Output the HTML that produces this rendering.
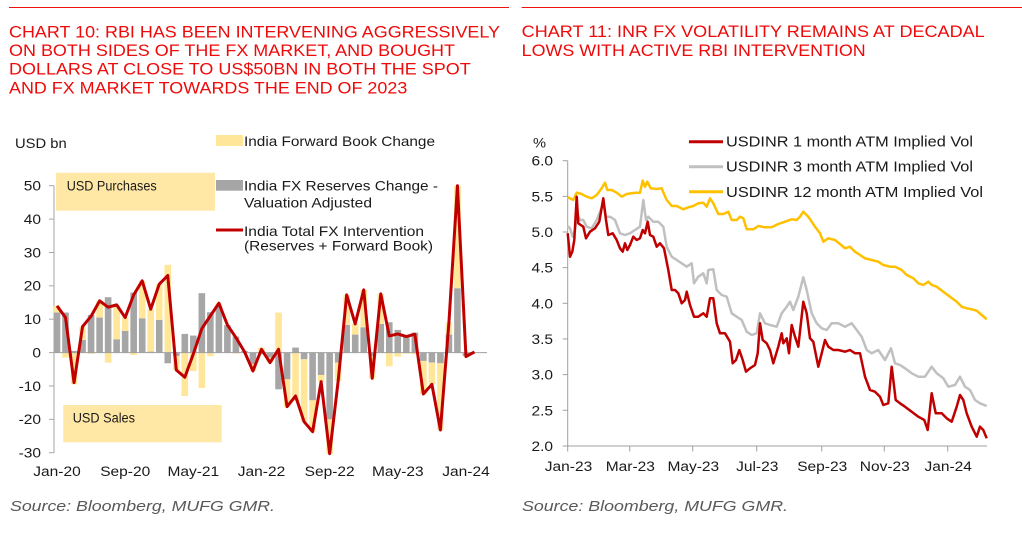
<!DOCTYPE html>
<html>
<head>
<meta charset="utf-8">
<style>
html,body{margin:0;padding:0;background:#fff;}
svg{display:block;}
text{font-family:"Liberation Sans",Arial,sans-serif;}
</style>
</head>
<body>
<svg width="1022" height="549" viewBox="0 0 1022 549" xmlns="http://www.w3.org/2000/svg">
<rect x="0" y="0" width="1022" height="549" fill="#fff"/>

<!-- top rules -->
<line x1="9" y1="7.5" x2="509" y2="7.5" stroke="#f01010" stroke-width="1"/>
<line x1="521.7" y1="7.5" x2="1022" y2="7.5" stroke="#f01010" stroke-width="1"/>

<!-- titles -->
<g fill="#ee0a0a" font-size="17">
<text x="9" y="37.3" textLength="491" lengthAdjust="spacingAndGlyphs">CHART 10: RBI HAS BEEN INTERVENING AGGRESSIVELY</text>
<text x="9" y="56" textLength="446" lengthAdjust="spacingAndGlyphs">ON BOTH SIDES OF THE FX MARKET, AND BOUGHT</text>
<text x="9" y="74.7" textLength="461.7" lengthAdjust="spacingAndGlyphs">DOLLARS AT CLOSE TO US$50BN IN BOTH THE SPOT</text>
<text x="9" y="93.4" textLength="398.3" lengthAdjust="spacingAndGlyphs">AND FX MARKET TOWARDS THE END OF 2023</text>
<text x="521.7" y="37" textLength="463" lengthAdjust="spacingAndGlyphs">CHART 11: INR FX VOLATILITY REMAINS AT DECADAL</text>
<text x="521.7" y="56" textLength="344" lengthAdjust="spacingAndGlyphs">LOWS WITH ACTIVE RBI INTERVENTION</text>
</g>

<!-- ============ LEFT CHART ============ -->
<!-- annotation boxes -->
<rect x="56" y="172.7" width="159" height="38" fill="#FFE8A6"/>
<rect x="63.3" y="405" width="158.4" height="37.3" fill="#FFE8A6"/>
<g font-size="13.5" fill="#1a1a1a">
<text x="66.7" y="190.7" textLength="90" lengthAdjust="spacingAndGlyphs">USD Purchases</text>
<text x="72.7" y="422.7" textLength="62.3" lengthAdjust="spacingAndGlyphs">USD Sales</text>
<text x="15" y="148" textLength="51.7" lengthAdjust="spacingAndGlyphs">USD bn</text>
</g>

<!-- legend -->
<rect x="216" y="135" width="27" height="11" fill="#FFE699"/>
<rect x="216" y="180" width="27" height="10.7" fill="#A6A6A6"/>
<line x1="216" y1="230" x2="243" y2="230" stroke="#C00000" stroke-width="3"/>
<g font-size="14" fill="#1a1a1a">
<text x="244" y="146" textLength="191" lengthAdjust="spacingAndGlyphs">India Forward Book Change</text>
<text x="244" y="190.7" textLength="194" lengthAdjust="spacingAndGlyphs">India FX Reserves Change -</text>
<text x="244" y="207.3" textLength="128" lengthAdjust="spacingAndGlyphs">Valuation Adjusted</text>
<text x="244" y="236" textLength="180" lengthAdjust="spacingAndGlyphs">India Total FX Intervention</text>
<text x="244" y="250.5" textLength="189" lengthAdjust="spacingAndGlyphs">(Reserves + Forward Book)</text>
</g>

<!-- y axis -->
<line x1="54" y1="185.7" x2="54" y2="452.7" stroke="#A6A6A6" stroke-width="1"/>
<g stroke="#A6A6A6" stroke-width="1">
<line x1="49" y1="185.7" x2="54" y2="185.7"/>
<line x1="49" y1="219.1" x2="54" y2="219.1"/>
<line x1="49" y1="252.5" x2="54" y2="252.5"/>
<line x1="49" y1="285.85" x2="54" y2="285.85"/>
<line x1="49" y1="319.2" x2="54" y2="319.2"/>
<line x1="49" y1="352.6" x2="54" y2="352.6"/>
<line x1="49" y1="386" x2="54" y2="386"/>
<line x1="49" y1="419.35" x2="54" y2="419.35"/>
<line x1="49" y1="452.7" x2="54" y2="452.7"/>
</g>
<g font-size="13.5" fill="#1a1a1a" text-anchor="end">
<text transform="translate(41,190.5) scale(1.15,1)">50</text>
<text transform="translate(41,223.9) scale(1.15,1)">40</text>
<text transform="translate(41,257.3) scale(1.15,1)">30</text>
<text transform="translate(41,290.6) scale(1.15,1)">20</text>
<text transform="translate(41,324) scale(1.15,1)">10</text>
<text transform="translate(41,357.4) scale(1.15,1)">0</text>
<text transform="translate(41,390.8) scale(1.15,1)">-10</text>
<text transform="translate(41,424.1) scale(1.15,1)">-20</text>
<text transform="translate(41,457.5) scale(1.15,1)">-30</text>
</g>
<g font-size="13.5" fill="#1a1a1a" text-anchor="middle">
<text transform="translate(57,476) scale(1.15,1)">Jan-20</text>
<text transform="translate(125.2,476) scale(1.15,1)">Sep-20</text>
<text transform="translate(193.3,476) scale(1.15,1)">May-21</text>
<text transform="translate(261.5,476) scale(1.15,1)">Jan-22</text>
<text transform="translate(329.6,476) scale(1.15,1)">Sep-22</text>
<text transform="translate(397.8,476) scale(1.15,1)">May-23</text>
<text transform="translate(466,476) scale(1.15,1)">Jan-24</text>
</g>

<!-- gray bars -->
<g fill="#A6A6A6">
<rect x="53.7" y="312.55" width="6.6" height="40.05"/>
<rect x="62.22" y="312.55" width="6.6" height="40.05"/>
<rect x="70.74" y="350.93" width="6.6" height="1.67"/>
<rect x="79.26" y="339.92" width="6.6" height="12.68"/>
<rect x="87.78" y="314.89" width="6.6" height="37.71"/>
<rect x="96.3" y="317.56" width="6.6" height="35.04"/>
<rect x="104.82" y="297.2" width="6.6" height="55.4"/>
<rect x="113.34" y="339.25" width="6.6" height="13.35"/>
<rect x="121.86" y="330.91" width="6.6" height="21.69"/>
<rect x="130.38" y="292.53" width="6.6" height="60.07"/>
<rect x="138.9" y="318.22" width="6.6" height="34.38"/>
<rect x="147.42" y="351.6" width="6.6" height="1"/>
<rect x="155.94" y="319.89" width="6.6" height="32.71"/>
<rect x="164.46" y="352.6" width="6.6" height="10.68"/>
<rect x="172.98" y="352.6" width="6.6" height="3.34"/>
<rect x="181.5" y="333.91" width="6.6" height="18.69"/>
<rect x="190.02" y="335.58" width="6.6" height="17.02"/>
<rect x="198.54" y="293.19" width="6.6" height="59.41"/>
<rect x="207.06" y="312.22" width="6.6" height="40.38"/>
<rect x="215.58" y="305.87" width="6.6" height="46.73"/>
<rect x="224.1" y="325.23" width="6.6" height="27.37"/>
<rect x="232.62" y="336.58" width="6.6" height="16.02"/>
<rect x="241.14" y="350.93" width="6.6" height="1.67"/>
<rect x="249.66" y="352.6" width="6.6" height="11.68"/>
<rect x="258.18" y="352.6" width="6.6" height="1.67"/>
<rect x="266.7" y="352.6" width="6.6" height="5.01"/>
<rect x="275.22" y="352.6" width="6.6" height="36.71"/>
<rect x="283.74" y="352.6" width="6.6" height="26.7"/>
<rect x="292.26" y="347.59" width="6.6" height="5.01"/>
<rect x="300.78" y="352.6" width="6.6" height="6.68"/>
<rect x="309.3" y="352.6" width="6.6" height="47.73"/>
<rect x="317.82" y="352.6" width="6.6" height="22.36"/>
<rect x="326.34" y="352.6" width="6.6" height="66.75"/>
<rect x="334.86" y="352.6" width="6.6" height="10.01"/>
<rect x="343.38" y="324.9" width="6.6" height="27.7"/>
<rect x="351.9" y="334.58" width="6.6" height="18.02"/>
<rect x="360.42" y="327.24" width="6.6" height="25.37"/>
<rect x="368.94" y="352.6" width="6.6" height="3.34"/>
<rect x="377.46" y="323.9" width="6.6" height="28.7"/>
<rect x="385.98" y="322.23" width="6.6" height="30.37"/>
<rect x="394.5" y="329.9" width="6.6" height="22.7"/>
<rect x="403.02" y="335.58" width="6.6" height="17.02"/>
<rect x="411.54" y="332.58" width="6.6" height="20.03"/>
<rect x="420.06" y="352.6" width="6.6" height="8.34"/>
<rect x="428.58" y="352.6" width="6.6" height="10.01"/>
<rect x="437.1" y="352.6" width="6.6" height="10.68"/>
<rect x="445.62" y="334.58" width="6.6" height="18.02"/>
<rect x="454.14" y="288.19" width="6.6" height="64.41"/>
<rect x="462.66" y="352.6" width="6.6" height="3.34"/>
</g>
<!-- yellow bars -->
<g fill="#FFE699">
<rect x="53.7" y="305.87" width="6.6" height="6.68"/>
<rect x="62.22" y="352.6" width="6.6" height="5.01"/>
<rect x="70.74" y="352.6" width="6.6" height="31.71"/>
<rect x="79.26" y="326.57" width="6.6" height="13.35"/>
<rect x="87.78" y="352.6" width="6.6" height="1.34"/>
<rect x="96.3" y="300.87" width="6.6" height="16.69"/>
<rect x="104.82" y="352.6" width="6.6" height="10.01"/>
<rect x="113.34" y="304.87" width="6.6" height="34.38"/>
<rect x="121.86" y="317.56" width="6.6" height="13.35"/>
<rect x="130.38" y="352.6" width="6.6" height="2.34"/>
<rect x="138.9" y="280.84" width="6.6" height="37.38"/>
<rect x="147.42" y="309.21" width="6.6" height="42.39"/>
<rect x="155.94" y="284.18" width="6.6" height="35.71"/>
<rect x="164.46" y="264.82" width="6.6" height="87.78"/>
<rect x="172.98" y="355.94" width="6.6" height="14.02"/>
<rect x="181.5" y="352.6" width="6.6" height="43.39"/>
<rect x="190.02" y="352.6" width="6.6" height="18.36"/>
<rect x="198.54" y="352.6" width="6.6" height="35.38"/>
<rect x="207.06" y="352.6" width="6.6" height="3.67"/>
<rect x="215.58" y="303.2" width="6.6" height="2.67"/>
<rect x="232.62" y="352.6" width="6.6" height="1"/>
<rect x="249.66" y="364.28" width="6.6" height="6.68"/>
<rect x="258.18" y="347.59" width="6.6" height="5.01"/>
<rect x="266.7" y="357.61" width="6.6" height="5.01"/>
<rect x="275.22" y="312.55" width="6.6" height="40.05"/>
<rect x="283.74" y="379.3" width="6.6" height="27.37"/>
<rect x="292.26" y="352.6" width="6.6" height="48.39"/>
<rect x="300.78" y="359.28" width="6.6" height="62.41"/>
<rect x="309.3" y="400.33" width="6.6" height="31.37"/>
<rect x="317.82" y="374.96" width="6.6" height="6.68"/>
<rect x="326.34" y="419.35" width="6.6" height="34.38"/>
<rect x="334.86" y="362.61" width="6.6" height="18.36"/>
<rect x="343.38" y="294.86" width="6.6" height="30.04"/>
<rect x="351.9" y="323.9" width="6.6" height="10.68"/>
<rect x="360.42" y="289.86" width="6.6" height="37.38"/>
<rect x="368.94" y="355.94" width="6.6" height="22.36"/>
<rect x="377.46" y="293.86" width="6.6" height="30.04"/>
<rect x="385.98" y="352.6" width="6.6" height="13.68"/>
<rect x="394.5" y="352.6" width="6.6" height="4"/>
<rect x="403.02" y="352.6" width="6.6" height="1"/>
<rect x="411.54" y="352.6" width="6.6" height="1.67"/>
<rect x="420.06" y="360.94" width="6.6" height="33.04"/>
<rect x="428.58" y="362.61" width="6.6" height="21.69"/>
<rect x="437.1" y="363.28" width="6.6" height="66.75"/>
<rect x="445.62" y="322.56" width="6.6" height="12.02"/>
<rect x="454.14" y="185.73" width="6.6" height="102.46"/>
<rect x="462.66" y="355.94" width="6.6" height="0.67"/>
</g>
<!-- zero line -->
<line x1="54" y1="352.6" x2="487" y2="352.6" stroke="#A0A0A0" stroke-width="1"/>
<!-- total line -->
<polyline fill="none" stroke="#C00000" stroke-width="3" stroke-linejoin="round" points="57,305.87 65.52,317.56 74.04,382.64 82.56,326.57 91.08,316.22 99.6,300.87 108.12,307.21 116.64,304.87 125.16,317.56 133.68,294.86 142.2,280.84 150.72,309.21 159.24,284.18 167.76,275.5 176.28,369.96 184.8,377.3 193.32,353.94 201.84,328.57 210.36,315.89 218.88,303.2 227.4,324.9 235.92,337.58 244.44,351.6 252.96,370.96 261.48,349.26 270,362.61 278.52,349.26 287.04,406.67 295.56,395.99 304.08,421.69 312.6,431.7 321.12,381.64 329.64,453.73 338.16,380.97 346.68,294.86 355.2,323.9 363.72,289.86 372.24,378.3 380.76,293.86 389.28,335.91 397.8,333.91 406.32,336.58 414.84,334.24 423.36,393.98 431.88,384.31 440.4,430.03 448.92,322.56 457.44,185.73 465.96,356.6 474.48,351.93"/>

<!-- ============ RIGHT CHART ============ -->
<text x="533" y="147.3" font-size="13.5" fill="#1a1a1a" textLength="13" lengthAdjust="spacingAndGlyphs">%</text>
<!-- legend -->
<line x1="689" y1="141.7" x2="723" y2="141.7" stroke="#C00000" stroke-width="3"/>
<line x1="689" y1="166.7" x2="723" y2="166.7" stroke="#C0C0C0" stroke-width="3"/>
<line x1="689" y1="191.7" x2="723" y2="191.7" stroke="#FFC000" stroke-width="3"/>
<g font-size="14.5" fill="#1a1a1a">
<text x="726" y="146.5" textLength="247" lengthAdjust="spacingAndGlyphs">USDINR 1 month ATM Implied Vol</text>
<text x="726" y="171.5" textLength="247" lengthAdjust="spacingAndGlyphs">USDINR 3 month ATM Implied Vol</text>
<text x="726" y="197" textLength="257" lengthAdjust="spacingAndGlyphs">USDINR 12 month ATM Implied Vol</text>
</g>
<!-- axes -->
<g stroke="#A0A0A0" stroke-width="1">
<line x1="567.7" y1="160.7" x2="567.7" y2="446"/>
<line x1="567.7" y1="446" x2="987" y2="446"/>
<line x1="562.7" y1="160.7" x2="567.7" y2="160.7"/>
<line x1="562.7" y1="196.35" x2="567.7" y2="196.35"/>
<line x1="562.7" y1="232" x2="567.7" y2="232"/>
<line x1="562.7" y1="267.65" x2="567.7" y2="267.65"/>
<line x1="562.7" y1="303.3" x2="567.7" y2="303.3"/>
<line x1="562.7" y1="338.95" x2="567.7" y2="338.95"/>
<line x1="562.7" y1="374.6" x2="567.7" y2="374.6"/>
<line x1="562.7" y1="410.25" x2="567.7" y2="410.25"/>
<line x1="562.7" y1="446" x2="567.7" y2="446"/>
<line x1="567.7" y1="446" x2="567.7" y2="451.5"/>
<line x1="629.7" y1="446" x2="629.7" y2="451.5"/>
<line x1="692.7" y1="446" x2="692.7" y2="451.5"/>
<line x1="756.7" y1="446" x2="756.7" y2="451.5"/>
<line x1="821.7" y1="446" x2="821.7" y2="451.5"/>
<line x1="884.3" y1="446" x2="884.3" y2="451.5"/>
<line x1="947.7" y1="446" x2="947.7" y2="451.5"/>
</g>
<g font-size="13.5" fill="#1a1a1a" text-anchor="end">
<text transform="translate(553,165.7) scale(1.15,1)">6.0</text>
<text transform="translate(553,201.35) scale(1.15,1)">5.5</text>
<text transform="translate(553,237) scale(1.15,1)">5.0</text>
<text transform="translate(553,272.65) scale(1.15,1)">4.5</text>
<text transform="translate(553,308.3) scale(1.15,1)">4.0</text>
<text transform="translate(553,343.95) scale(1.15,1)">3.5</text>
<text transform="translate(553,379.6) scale(1.15,1)">3.0</text>
<text transform="translate(553,415.25) scale(1.15,1)">2.5</text>
<text transform="translate(553,450.9) scale(1.15,1)">2.0</text>
</g>
<g font-size="13.5" fill="#1a1a1a" text-anchor="middle">
<text transform="translate(568.5,471) scale(1.15,1)">Jan-23</text>
<text transform="translate(630.3,471) scale(1.15,1)">Mar-23</text>
<text transform="translate(693.3,471) scale(1.15,1)">May-23</text>
<text transform="translate(757.2,471) scale(1.15,1)">Jul-23</text>
<text transform="translate(822.2,471) scale(1.15,1)">Sep-23</text>
<text transform="translate(884.8,471) scale(1.15,1)">Nov-23</text>
<text transform="translate(948.2,471) scale(1.15,1)">Jan-24</text>
</g>
<!-- series -->
<polyline fill="none" stroke="#FFC000" stroke-width="2.5" stroke-linejoin="round" points="567.7,197.3 573.3,200 576.7,192.7 581.7,194 586.7,196.7 591.7,198.3 596.7,195 601.7,188.3 605,182.7 607.3,190 611.7,190 616.7,192.7 621.7,196.7 626.7,194 631.7,193.3 636.7,192.7 640,192.7 642.7,180.7 645,186.7 647.3,181.7 650.7,188.3 656.7,189 661.7,188.3 664,194 666.7,200 671.7,206 676.7,206 683.3,209.3 688.3,207.3 693.3,206 698.3,203.3 703.3,202.7 706.7,206.7 710,198.3 713.3,203.3 718.3,214 723.3,214 728.3,211.7 731.7,220 736.7,220 740,216.7 743.3,218.3 746.7,229.3 753.3,229.3 758.3,226 765,227.3 771.7,227.3 778.3,224 785,221.7 791.7,219.3 796.7,220 800,216.7 803.3,211.7 808.3,216.7 815,226.7 820,233.3 823.3,241.7 828.3,238.3 835,240 840,244 845,248.3 850,246.7 855,251.7 860,255 865,258.3 871.7,260 878.3,261.7 883.3,265 890,266.7 895,266.7 901.7,270 906.7,275 913.3,278.3 918.3,283.3 923.3,285 928.3,281.7 931.7,285 936.7,286.7 943.3,291.7 950,296.7 956.7,301.7 961.7,306.7 966.7,308.3 971.7,309.3 976.7,310.7 981.7,315 986.7,319.3"/>
<polyline fill="none" stroke="#C0C0C0" stroke-width="2.5" stroke-linejoin="round" points="567.7,226 570,228.3 572.7,236.7 575,230 577.3,213.3 580,220 583.3,220 586.7,226.7 591.7,228.3 596.7,220 600,211.7 603.3,203.3 606,216.7 610,216.7 615,220 620,233.3 625,235 630,233.3 635,230 640,226.7 643.3,200 646,220 648.3,216.7 653.3,221.7 658.3,221.7 663.3,226.7 666.7,246.7 671.7,256.7 676.7,260 681.7,263.3 686.7,266.7 691.7,263.3 694,283.3 698.3,276.7 703.3,273.3 706.7,283.3 708.3,270 713.3,269.3 716.7,290 721.7,295 726.7,296.7 731.7,313.3 736.7,316.7 741.7,320 746.7,331.7 751.7,335 756.7,333.3 760,313.3 765,323.3 770,325 776.7,326.7 781.7,313.3 786.7,306.7 790,301.7 793.3,310 798.3,296.7 803.3,277.3 806.7,290 811.7,313.3 816.7,323.3 821.7,328.3 826.7,330 831.7,323.3 838.3,323.3 845,326.7 851.7,323.3 856.7,330 861.7,336.7 866.7,350 871.7,353.3 878.3,350 885,360 891,348.3 895,363.3 900,365 905,368.3 911.7,373.3 918.3,376.7 925,376.7 931.7,366.7 936.7,373.3 943.3,378.3 948.3,386.7 955,385 960,376.7 965,386.7 970,390 975,400 980,403.3 986.7,406"/>
<polyline fill="none" stroke="#C00000" stroke-width="2.5" stroke-linejoin="round" points="567.7,233.3 570,256.7 572.3,251.7 574.3,240 576.7,196.7 578.3,223.3 580.7,225 583.3,226.7 586,238.3 590,231.7 595,228.3 599.3,221.7 603.3,198.3 606,220 608.3,235 612.7,233.3 616.7,240 620,248.3 622.7,251.7 625,243.3 627.3,250 630,245 633.3,236.7 636.7,240 640,238.3 642.7,230 645,233.3 647.7,221.7 650,235 653.3,236.7 656.7,246.7 660,243.3 664,248.3 668.3,270 671.7,290 675,290 678.3,293.3 681.7,303.3 685,300 686.7,291.7 690,305 694,316.7 698.3,316.7 703.3,313.3 706.7,316.7 710,298.3 713.3,298.3 716.7,323.3 720,333.3 725,333.3 730,341.7 732.7,363.3 736,360 739.3,350 742.7,360 746,371.7 750,368.3 755,365 757.7,353.3 760,323.3 762.7,340 766.7,343.3 770,350 773.3,363.3 778.3,346.7 781.7,333.3 783.3,343.3 786.7,338.3 789,353.3 791.7,325 795,336.7 798.3,346.7 803.3,301.7 806.7,313.3 810,338.3 813.3,341.7 818.3,366.7 821.7,353.3 825,340 828.3,346.7 833.3,350 838.3,350 845,351.7 850,350 855,353.3 860,353.3 865,376.7 870,390 875,391.7 880,396.7 883.3,405 888.3,403.3 891.7,366.7 895.7,400 900,403.3 905,406.7 911.7,411.7 918.3,416.7 924.3,420 927.7,430 931.7,393.3 935.7,413.3 941.7,413.3 946.7,418.3 951.7,421.7 956.7,406.7 960,395 963.3,400 966.7,413.3 971.7,426.7 976.7,436.7 980,426.7 983.3,430 986.7,438.3"/>

<!-- sources -->
<g font-size="15" font-style="italic" fill="#595959">
<text x="10" y="511" textLength="265" lengthAdjust="spacingAndGlyphs">Source: Bloomberg, MUFG GMR.</text>
<text x="522" y="511" textLength="266" lengthAdjust="spacingAndGlyphs">Source: Bloomberg, MUFG GMR.</text>
</g>
</svg>
</body>
</html>
